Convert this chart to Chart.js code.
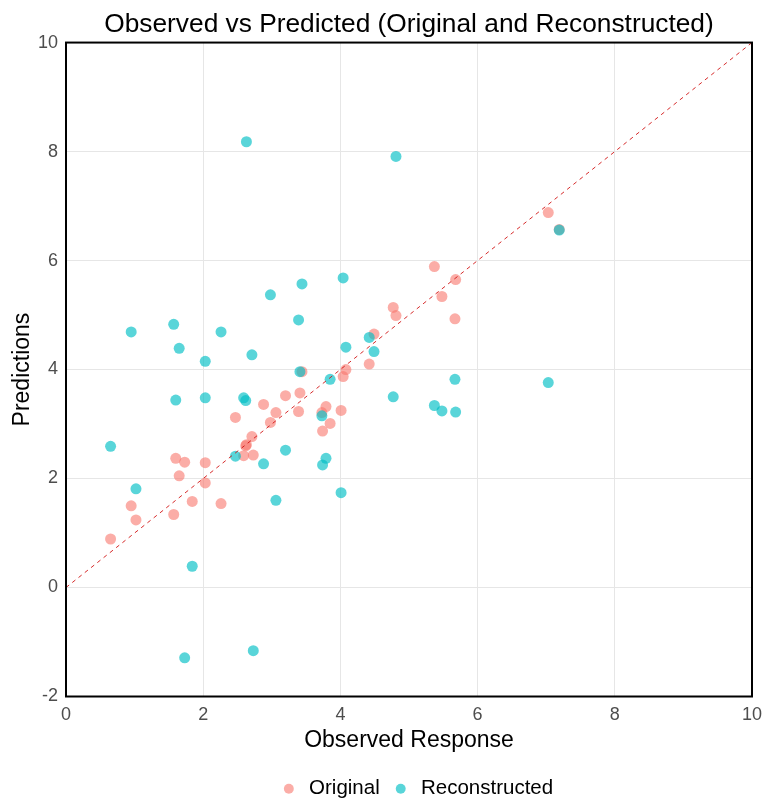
<!DOCTYPE html>
<html>
<head>
<meta charset="utf-8">
<script src="https://cdn.jsdelivr.net/npm/chart.js@4"></script>
<style>
  html, body { margin: 0; padding: 0; background: #fff; }
  #wrap { width: 766px; height: 802px; }
</style>
</head>
<body>
<div id="wrap"><canvas id="myChart" width="766" height="802"></canvas></div>
<script>
// observed response (shared by both series)
const observed = [0.65, 0.95, 1.02, 1.57, 1.60, 1.65, 1.73, 1.84, 2.03, 2.03,
    2.26, 2.47, 2.59, 2.62, 2.63, 2.71, 2.73, 2.88, 2.98, 3.06,
    3.20, 3.39, 3.41, 3.44, 3.73, 3.74, 3.79, 3.85, 4.01, 4.04,
    4.08, 4.42, 4.49, 4.77, 4.81, 5.37, 5.48, 5.67, 5.68, 7.03, 7.19]
// predictions from the original model
const predOriginal = [0.89, 1.50, 1.24, 1.34, 2.37, 2.05, 2.30, 1.58, 2.29, 1.92,
    1.54, 3.12, 2.42, 2.60, 2.62, 2.77, 2.43, 3.36, 3.03, 3.21,
    3.52, 3.23, 3.57, 3.96, 3.21, 2.87, 3.32, 3.01, 3.25, 3.87,
    4.00, 4.10, 4.65, 5.14, 4.99, 5.89, 5.34, 4.93, 5.65, 6.88, 6.57]
// predictions from the reconstructed model
const predReconstructed = [2.59, 4.69, 1.81, 4.83, 3.44, 4.39, -1.29, 0.39, 4.15, 3.48,
    4.69, 2.41, 3.48, 3.43, 8.18, 4.27, -1.16, 2.27, 5.37, 1.60,
    2.52, 4.91, 3.96, 5.57, 3.15, 2.25, 2.37, 3.82, 1.74, 5.68,
    4.41, 4.59, 4.33, 3.50, 7.91, 3.34, 3.24, 3.82, 3.22, 3.76, 6.56]
const refLine = [0, 10]
const seriesNames = ['Original', 'Reconstructed']

const toPoints = (xs, ys) => xs.map((x, i) => ({ x: x, y: ys[i] }))

// black frame round the panel
const panelBorder = {
    id: 'panelBorder',
    afterDatasetsDraw(chart) {
        const a = chart.chartArea
        const c = chart.ctx
        c.save()
        c.strokeStyle = '#000'
        c.lineWidth = 2
        c.strokeRect(a.left, a.top, a.right - a.left, a.bottom - a.top)
        c.restore()
    }
}

// nudge the legend a little to the right, like the original
const legendNudge = {
    id: 'legendNudge',
    afterLayout(chart) {
        chart.legend.left += 7
        chart.legend.right += 7
    }
}

Chart.defaults.font.family = '"Liberation Sans", Arial, sans-serif'

const ctx = document.getElementById('myChart')
new Chart(ctx, {
    type: 'scatter',
    data: {
        datasets: [{
            label: seriesNames[0],
            data: toPoints(observed, predOriginal),
            backgroundColor: 'rgba(248, 118, 109, 0.6)',
            borderWidth: 0,
            pointRadius: 5.5,
            order: 2
        }, {
            label: seriesNames[1],
            data: toPoints(observed, predReconstructed),
            backgroundColor: 'rgba(0, 191, 196, 0.65)',
            borderWidth: 0,
            pointRadius: 5.5,
            order: 1
        }, {
            type: 'line',
            label: 'ref',
            data: toPoints(refLine, refLine),
            borderColor: 'rgba(210, 20, 20, 0.9)',
            borderWidth: 1,
            borderDash: [4, 4],
            pointRadius: 0,
            fill: false,
            order: 0
        }]
    },
    options: {
        responsive: false,
        animation: false,
        layout: { padding: { left: 0, right: 14, top: 0, bottom: -7 } },
        plugins: {
            title: {
                display: true,
                fullSize: false,
                text: 'Observed vs Predicted (Original and Reconstructed)',
                color: '#000',
                font: { size: 26.3, weight: 'normal' },
                padding: { top: 9, bottom: 2 }
            },
            legend: {
                position: 'bottom',
                fullSize: false,
                labels: {
                    filter: item => item.text !== 'ref',
                    sort: (a, b) => a.datasetIndex - b.datasetIndex,
                    usePointStyle: true,
                    pointStyle: 'circle',
                    boxWidth: 20,
                    boxHeight: 7,
                    color: '#000',
                    font: { size: 20.5 },
                    padding: 11
                }
            },
            tooltip: { enabled: false }
        },
        scales: {
            x: {
                min: 0,
                max: 10,
                ticks: { stepSize: 2, color: '#4d4d4d', font: { size: 18 }, padding: 8 },
                grid: { color: '#e6e6e6', drawTicks: false },
                border: { display: false },
                title: { display: true, text: 'Observed Response', color: '#000', font: { size: 23 }, padding: { top: 0, bottom: 13 } },
                afterFit: s => { s.height = 71; s.paddingLeft = 0; s.paddingRight = 0 }
            },
            y: {
                min: -2,
                max: 10,
                ticks: { stepSize: 2, color: '#4d4d4d', font: { size: 18 }, padding: 8 },
                grid: { color: '#e6e6e6', drawTicks: false },
                border: { display: false },
                title: { display: true, text: 'Predictions', color: '#000', font: { size: 23 }, padding: { top: 9, bottom: 0 } },
                afterFit: s => { s.width = 66; s.paddingTop = 0; s.paddingBottom = 0 }
            }
        }
    },
    plugins: [panelBorder, legendNudge]
})
</script>
</body>
</html>
